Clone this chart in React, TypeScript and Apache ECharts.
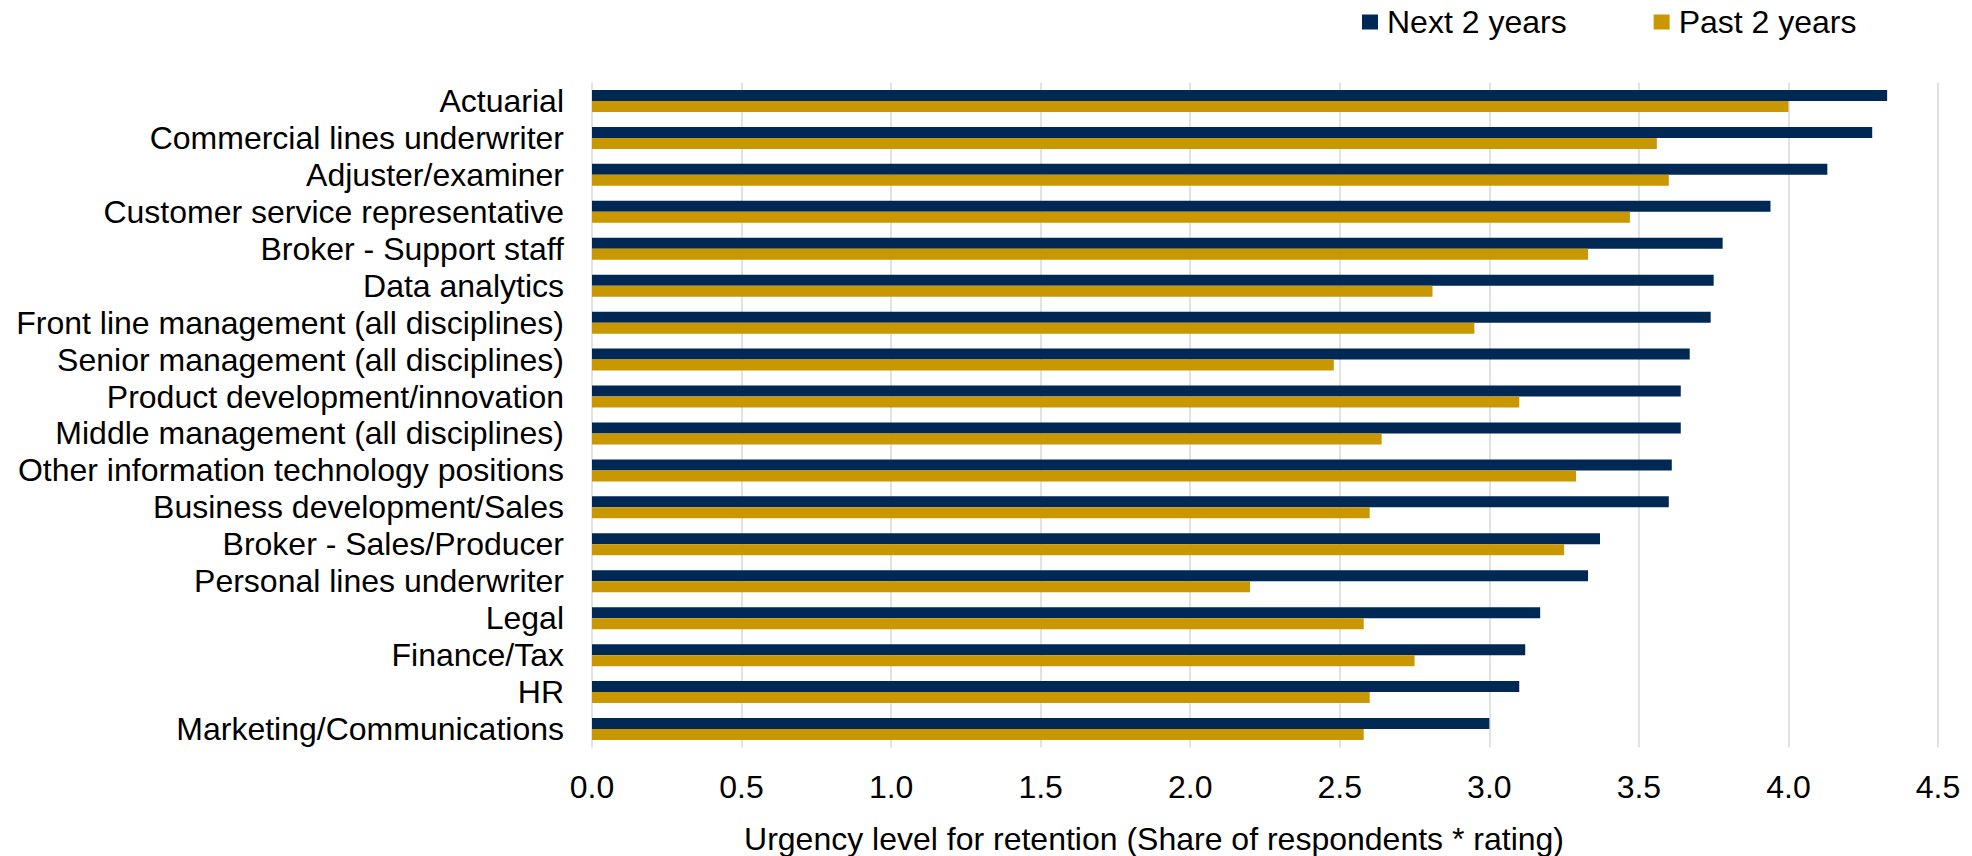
import React, { useEffect, useRef } from "react";
import * as echarts from "echarts";

const categories = [
  "Actuarial",
  "Commercial lines underwriter",
  "Adjuster/examiner",
  "Customer service representative",
  "Broker - Support staff",
  "Data analytics",
  "Front line management (all disciplines)",
  "Senior management (all disciplines)",
  "Product development/innovation",
  "Middle management (all disciplines)",
  "Other information technology positions",
  "Business development/Sales",
  "Broker - Sales/Producer",
  "Personal lines underwriter",
  "Legal",
  "Finance/Tax",
  "HR",
  "Marketing/Communications",
];

const nextTwoYears = [
  4.33, 4.28, 4.13, 3.94, 3.78, 3.75, 3.74, 3.67, 3.64, 3.64, 3.61, 3.6, 3.37,
  3.33, 3.17, 3.12, 3.1, 3.0,
];

const pastTwoYears = [
  4.0, 3.56, 3.6, 3.47, 3.33, 2.81, 2.95, 2.48, 3.1, 2.64, 3.29, 2.6, 3.25,
  2.2, 2.58, 2.75, 2.6, 2.58,
];

const seriesNames = ["Next 2 years", "Past 2 years"];
const axisTitle = "Urgency level for retention (Share of respondents * rating)";

const NAVY = "#002855";
const GOLD = "#C99700";
const FONT = "'Liberation Sans', Arial, sans-serif";
const FS = 32;

export default function App() {
  const ref = useRef<HTMLDivElement>(null);

  useEffect(() => {
    if (!ref.current) return;
    const chart = echarts.init(ref.current, undefined, { renderer: "svg" });
    chart.setOption({
      animation: false,
      backgroundColor: "#ffffff",
      textStyle: { fontFamily: FONT, color: "#000" },
      legend: {
        data: seriesNames,
        left: 1362,
        top: 6,
        padding: 0,
        icon: "rect",
        itemWidth: 16,
        itemHeight: 15,
        itemGap: 87,
        textStyle: {
          fontFamily: FONT,
          fontSize: FS,
          color: "#000",
          padding: [0, 0, 0, 4],
        },
      },
      grid: { left: 592, right: 34, top: 82.5, bottom: 108.5, containLabel: false },
      xAxis: {
        type: "value",
        min: 0,
        max: 4.5,
        interval: 0.5,
        axisLine: { show: false },
        axisTick: { show: false },
        splitLine: { show: true, lineStyle: { color: "#d9d9d9", width: 1.5 } },
        axisLabel: {
          margin: 23,
          fontSize: FS,
          fontFamily: FONT,
          color: "#000",
          formatter: (v: number) => v.toFixed(1),
        },
      },
      yAxis: {
        type: "category",
        data: categories,
        inverse: true,
        axisLine: { show: false },
        axisTick: { show: false },
        axisLabel: {
          interval: 0,
          margin: 28,
          fontSize: FS,
          fontFamily: FONT,
          color: "#000",
        },
      },
      graphic: [
        {
          type: "text",
          x: 1154,
          y: 839,
          style: {
            text: axisTitle,
            fontSize: FS,
            fontFamily: FONT,
            fill: "#000",
            align: "center",
            verticalAlign: "middle",
          },
        },
      ],
      series: [
        {
          name: seriesNames[0],
          type: "bar",
          data: nextTwoYears,
          barWidth: 11,
          barGap: "0%",
          itemStyle: { color: NAVY },
        },
        {
          name: seriesNames[1],
          type: "bar",
          data: pastTwoYears,
          barWidth: 11,
          barGap: "0%",
          itemStyle: { color: GOLD },
        },
      ],
    });
    return () => chart.dispose();
  }, []);

  return (
    <div
      ref={ref}
      style={{ position: "fixed", left: 0, top: 0, width: 1972, height: 856 }}
    />
  );
}
